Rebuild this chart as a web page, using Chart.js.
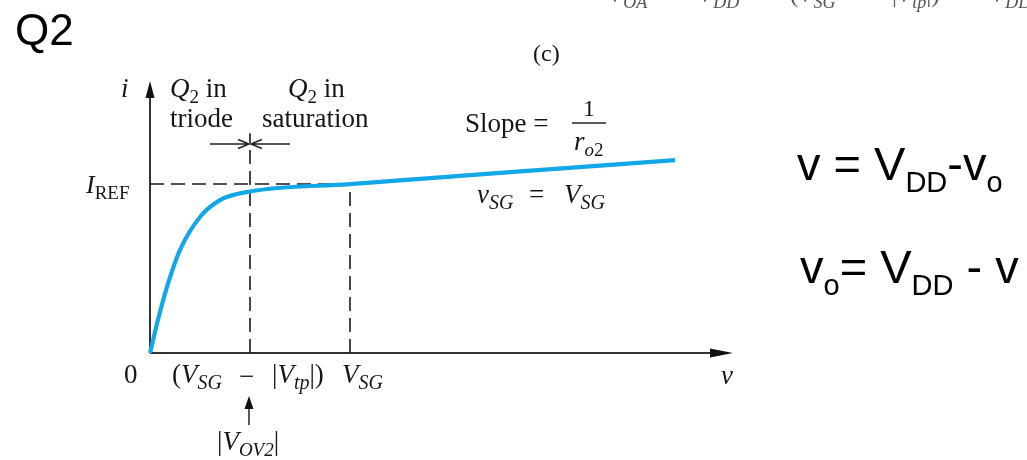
<!DOCTYPE html>
<html>
<head>
<meta charset="utf-8">
<script src="https://cdn.jsdelivr.net/npm/chart.js@4.4.0/dist/chart.umd.min.js"></script>
<style>
  html, body { margin: 0; padding: 0; background: #fff; }
  canvas { display: block; }
</style>
</head>
<body>
<canvas id="graficoQ2" width="1027" height="460"></canvas>
<script>
// Curva i x v do transistor Q2 (unidades normalizadas: V_OV2 = 1, I_REF = 1)
const tensoes = [0, 0.09, 0.18, 0.3, 0.5, 0.7, 1.0, 2.0, 3.5, 5.25];
const correntes = [0, 0.22, 0.41, 0.61, 0.805, 0.905, 0.956, 1.0, 1.066, 1.142];

// Pontos notáveis dos eixos
const vOV = 1.0;      // (V_SG - |V_tp|)
const vSG = 2.0;      // V_SG
const iREF = 1.0;     // I_REF
const topoTracejado = 1.3;

// Limites dos eixos (até a ponta das setas)
const eixoXMax = 5.83;
const eixoYMax = 1.61;

const serif = '"Liberation Serif", "Times New Roman", serif';
const sans = '"Liberation Sans", Arial, sans-serif';
const corCurva = '#12a7e6';
const corTexto = '#161616';

// Desenha texto com partes em itálico ('i') e subscrito ('s')
function textoRico(ctx, x, y, partes, tam, fonte, cor) {
    const escSub = fonte === sans ? 0.62 : 0.72;
    const deslSub = fonte === sans ? 0.26 : 0.22;
    let cx = x;
    partes.forEach(function (p) {
        const txt = p[0];
        const estilo = p[1] || '';
        const sub = estilo.indexOf('s') >= 0;
        const ita = estilo.indexOf('i') >= 0;
        const t = p[2] || (sub ? Math.round(tam * escSub) : tam);
        ctx.font = (ita ? 'italic ' : '') + t + 'px ' + fonte;
        ctx.fillStyle = cor || corTexto;
        ctx.textAlign = 'left';
        ctx.textBaseline = 'alphabetic';
        ctx.fillText(txt, cx, sub ? y + tam * deslSub : y);
        cx += ctx.measureText(txt).width;
    });
    return cx;
}

function setaCheia(ctx, xp, yp, dx, dy, comp, larg) {
    // ponta em (xp, yp), apontando na direção (dx, dy)
    const nx = -dy, ny = dx;
    ctx.beginPath();
    ctx.moveTo(xp, yp);
    ctx.lineTo(xp - dx * comp + nx * larg, yp - dy * comp + ny * larg);
    ctx.lineTo(xp - dx * comp - nx * larg, yp - dy * comp - ny * larg);
    ctx.closePath();
    ctx.fill();
}

function setaAberta(ctx, x1, x2, y) {
    const d = Math.sign(x2 - x1);
    ctx.beginPath();
    ctx.moveTo(x1, y);
    ctx.lineTo(x2, y);
    ctx.moveTo(x2 - d * 11, y - 4.5);
    ctx.lineTo(x2, y);
    ctx.lineTo(x2 - d * 11, y + 4.5);
    ctx.stroke();
}

// Eixos com setas
const pluginEixos = {
    id: 'eixos',
    beforeDatasetsDraw(chart) {
        const ctx = chart.ctx;
        const sx = chart.scales.x, sy = chart.scales.y;
        const x0 = sx.getPixelForValue(0), y0 = sy.getPixelForValue(0);
        const xFim = sx.getPixelForValue(eixoXMax), yFim = sy.getPixelForValue(eixoYMax);
        ctx.save();
        ctx.strokeStyle = '#333';
        ctx.fillStyle = '#111';
        ctx.lineWidth = 2;
        ctx.beginPath();
        ctx.moveTo(x0, y0);
        ctx.lineTo(x0, yFim + 12);
        ctx.moveTo(x0, y0);
        ctx.lineTo(xFim - 16, y0);
        ctx.stroke();
        setaCheia(ctx, x0, yFim, 0, -1, 17, 4.5);
        setaCheia(ctx, xFim, y0, 1, 0, 23, 4.5);
        ctx.restore();
    }
};

// Textos e anotações da figura
const pluginTextos = {
    id: 'textos',
    afterDraw(chart) {
        const ctx = chart.ctx;
        const sx = chart.scales.x, sy = chart.scales.y;
        const xOV = sx.getPixelForValue(vOV);
        const yREF = sy.getPixelForValue(iREF);
        const y0 = sy.getPixelForValue(0);
        ctx.save();

        textoRico(ctx, 15, 45, [['Q2', '']], 44, sans, '#000');

        // linha de cima, cortada pela borda
        const cinza = '#555';
        textoRico(ctx, 608, 2, [['V', 'i'], ['OA', 'si']], 25, serif, cinza);
        textoRico(ctx, 698, 2, [['V', 'i'], ['DD', 'si']], 25, serif, cinza);
        textoRico(ctx, 790, 2, [['(', ''], ['V', 'i'], ['SG', 'si']], 25, serif, cinza);
        textoRico(ctx, 892, 2, [['|', ''], ['V', 'i'], ['tp', 'si'], ['|)', '']], 25, serif, cinza);
        textoRico(ctx, 990, 2, [['V', 'i'], ['DD', 'si']], 25, serif, cinza);

        textoRico(ctx, 533, 61, [['(c)', '']], 24, serif);

        // rótulos das regiões
        textoRico(ctx, 121, 97, [['i', 'i']], 27, serif);
        textoRico(ctx, 170, 97, [['Q', 'i'], ['2', 's'], [' in', '']], 27, serif);
        textoRico(ctx, 170, 127, [['triode', '']], 27, serif);
        textoRico(ctx, 288, 97, [['Q', 'i'], ['2', 's'], [' in', '']], 27, serif);
        textoRico(ctx, 262, 127, [['saturation', '']], 27, serif);

        ctx.strokeStyle = '#222';
        ctx.lineWidth = 1.5;
        setaAberta(ctx, xOV - 40, xOV - 1, 144);
        setaAberta(ctx, xOV + 40, xOV + 1, 144);

        // I_REF
        textoRico(ctx, 86, yREF + 9, [['I', 'i'], ['REF', 's', 19]], 26, serif);

        // Slope = 1 / r_o2
        textoRico(ctx, 465, 132, [['Slope =', '']], 27, serif);
        ctx.font = '24px ' + serif;
        ctx.fillStyle = corTexto;
        ctx.textAlign = 'center';
        ctx.fillText('1', 589, 116);
        ctx.beginPath();
        ctx.moveTo(572, 123);
        ctx.lineTo(606, 123);
        ctx.stroke();
        textoRico(ctx, 574, 150, [['r', 'i'], ['o', 'si'], ['2', 's']], 27, serif);

        // v_SG = V_SG
        textoRico(ctx, 477, 203, [['v', 'i'], ['SG', 'si', 20]], 27, serif);
        textoRico(ctx, 529, 203, [['=', '']], 27, serif);
        textoRico(ctx, 564, 203, [['V', 'i'], ['SG', 'si', 20]], 27, serif);

        // rótulos do eixo v
        const yb = y0 + 30;
        textoRico(ctx, sx.getPixelForValue(0) - 26, yb, [['0', '']], 27, serif);
        textoRico(ctx, 172, yb, [['(', ''], ['V', 'i'], ['SG', 'si', 20]], 27, serif);
        textoRico(ctx, 239, yb + 2, [['\u2212', '']], 27, serif);
        textoRico(ctx, 272, yb, [['|', ''], ['V', 'i'], ['tp', 'si', 20], ['|)', '']], 27, serif);
        textoRico(ctx, 342, yb, [['V', 'i'], ['SG', 'si', 20]], 27, serif);
        textoRico(ctx, 721, yb + 1, [['v', 'i']], 27, serif);

        // seta apontando para |V_OV2|
        ctx.fillStyle = '#111';
        ctx.beginPath();
        ctx.moveTo(xOV - 1, 425);
        ctx.lineTo(xOV - 1, 405);
        ctx.stroke();
        setaCheia(ctx, xOV - 1, 396, 0, -1, 13, 4.5);
        textoRico(ctx, 217, 450, [['|', ''], ['V', 'i'], ['OV2', 'si', 19], ['|', '']], 27, serif);

        // relações à direita
        textoRico(ctx, 797, 180, [['v = V', ''], ['DD', 's'], ['-v', ''], ['o', 's']], 47, sans, '#000');
        textoRico(ctx, 800, 283, [['v', ''], ['o', 's'], ['= V', ''], ['DD', 's'], [' - v', '']], 47, sans, '#000');

        ctx.restore();
    }
};

const tracejado = {
    borderColor: '#1a1a1a',
    borderWidth: 1.6,
    borderDash: [14, 7],
    pointRadius: 0,
    showLine: true,
    fill: false,
    clip: false
};

new Chart(document.getElementById('graficoQ2').getContext('2d'), {
    type: 'scatter',
    data: {
        datasets: [
            {
                label: 'i',
                data: tensoes.map(function (v, k) { return { x: v, y: correntes[k] }; }),
                borderColor: corCurva,
                borderWidth: 4.2,
                pointRadius: 0,
                showLine: true,
                cubicInterpolationMode: 'monotone',
                clip: false
            },
            Object.assign({ data: [{ x: 0, y: iREF }, { x: vSG, y: iREF }] }, tracejado),
            Object.assign({ data: [{ x: vOV, y: 0 }, { x: vOV, y: topoTracejado }] }, tracejado),
            Object.assign({ data: [{ x: vSG, y: 0 }, { x: vSG, y: iREF }] }, tracejado)
        ]
    },
    options: {
        responsive: false,
        animation: false,
        layout: { padding: { left: 150, right: 294, top: 81, bottom: 107 } },
        plugins: {
            legend: { display: false },
            tooltip: { enabled: false }
        },
        scales: {
            x: { type: 'linear', min: 0, max: eixoXMax, display: false },
            y: { type: 'linear', min: 0, max: eixoYMax, display: false }
        }
    },
    plugins: [pluginEixos, pluginTextos]
});
</script>
</body>
</html>
